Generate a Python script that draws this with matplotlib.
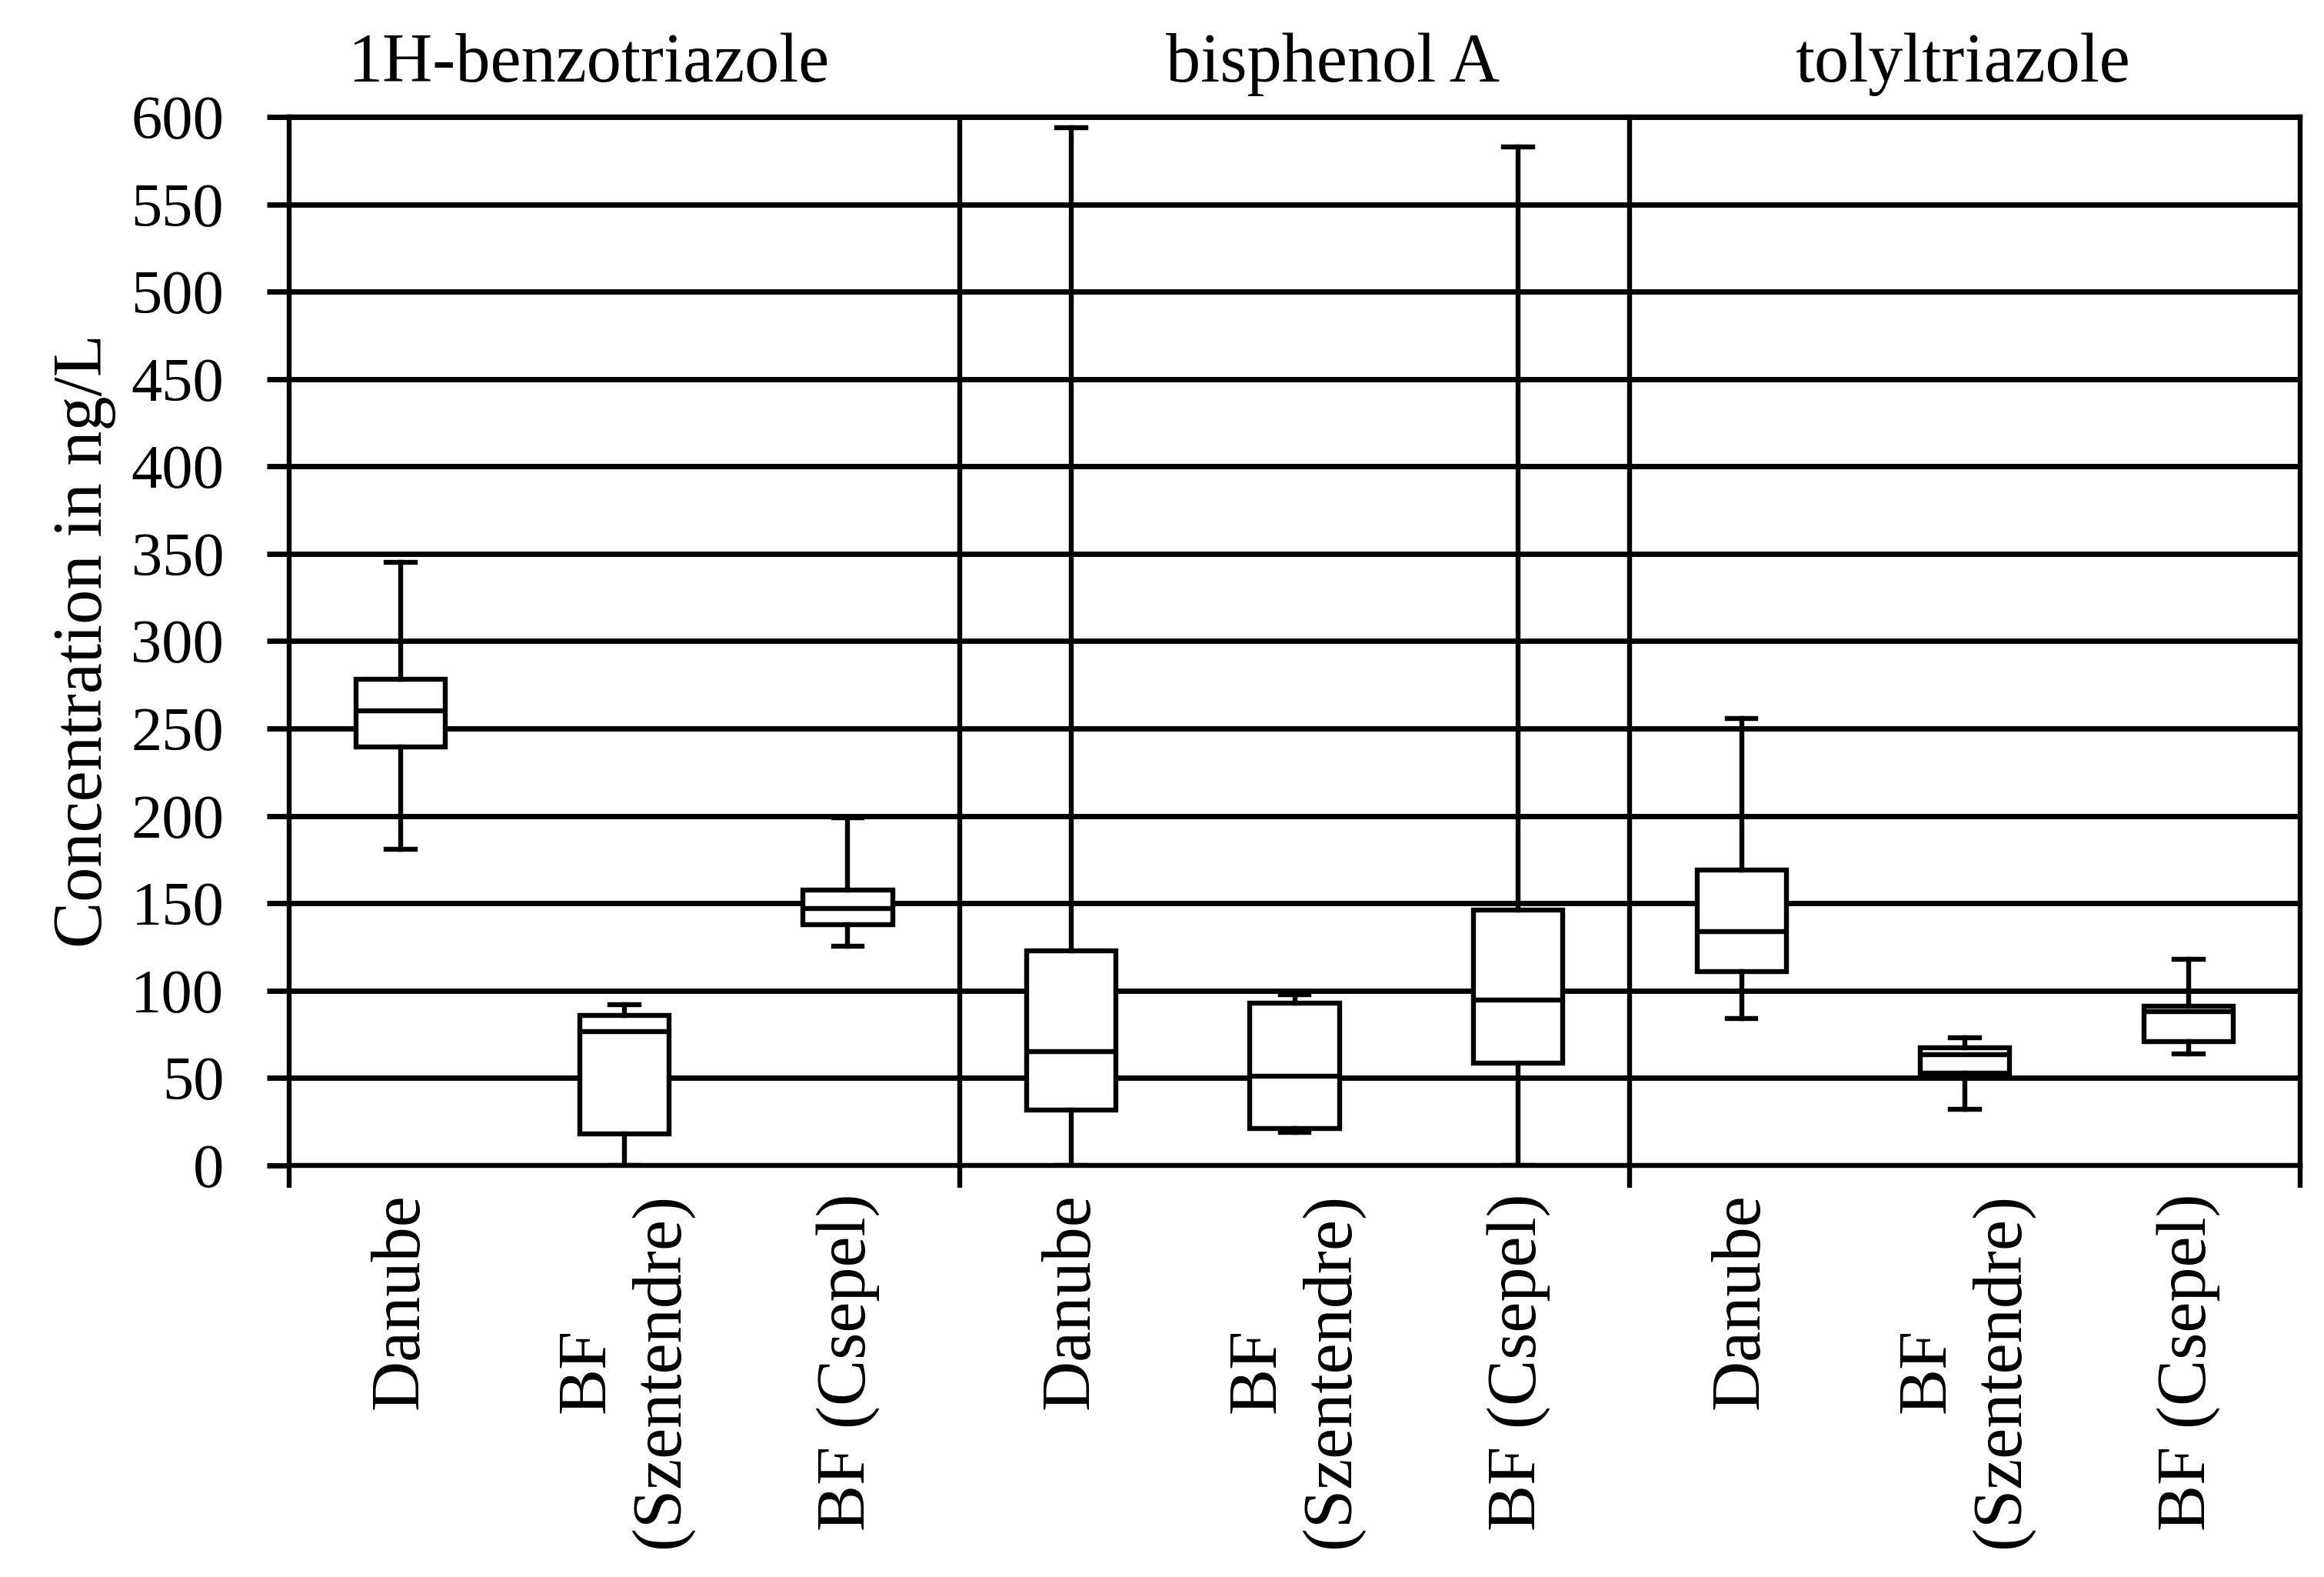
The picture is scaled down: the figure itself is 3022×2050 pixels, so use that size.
import matplotlib
matplotlib.use('Agg')
import matplotlib.pyplot as plt
from matplotlib.transforms import blended_transform_factory

# data (ng/L)
compounds = ['1H-benzotriazole', 'bisphenol A', 'tolyltriazole']
sites = ['Danube', 'BF\n(Szentendre)', 'BF (Csepel)']

whislo = [181, 0, 125.6, 0, 19, 0, 84, 32, 64]
q1 = [239.5, 18, 138, 31.5, 21, 58.5, 111, 52.7, 71]
med = [260, 76.5, 147, 65, 51, 94.5, 134, 63.5, 88]
q3 = [278, 86, 157.5, 123, 93, 146, 169, 67.5, 91]
whishi = [345, 92, 199, 594, 97.7, 583, 255.7, 73, 118]

plt.rcParams['font.family'] = ['Liberation Serif', 'DejaVu Serif']
fs = 58      # tick numbers
fs_txt = 65  # words
lw = 4.6

fig = plt.figure(figsize=(30.22, 20.5), dpi=100)
ax = fig.add_axes([376 / 3022, 1 - 1515 / 2050, 2615 / 3022, 1363 / 2050])

stats = []
for i in range(len(med)):
    stats.append({'whislo': whislo[i], 'q1': q1[i], 'med': med[i],
                  'q3': q3[i], 'whishi': whishi[i], 'fliers': []})
positions = [i + 0.5 for i in range(len(med))]

ax.bxp(stats, positions=positions, widths=0.4, capwidths=0.13,
       showfliers=False, patch_artist=True, manage_ticks=False,
       boxprops=dict(facecolor='white', edgecolor='black', linewidth=lw),
       medianprops=dict(color='black', linewidth=lw),
       whiskerprops=dict(color='black', linewidth=lw),
       capprops=dict(color='black', linewidth=lw), zorder=3)

# horizontal grid
for v in range(0, 601, 50):
    ax.axhline(v, color='black', linewidth=5, zorder=1)
# panel dividers
for xd in [3, 6]:
    ax.axvline(xd, color='black', linewidth=lw, zorder=2)

ax.set_xlim(0, 9)
ax.set_ylim(0, 600)
ax.set_yticks(range(0, 601, 50))
ax.tick_params(axis='y', labelsize=fs, length=21, width=5, pad=40)

ax.set_xticks([0, 3, 6, 9])
ax.set_xticklabels([])
ax.tick_params(axis='x', which='major', length=21, width=lw)
ax.set_xticks(positions, minor=True)
ax.set_xticklabels(sites * 3, minor=True, rotation=90, fontsize=fs_txt,
                   va='top', ha='center', multialignment='center')
ax.tick_params(axis='x', which='minor', length=0, pad=26)

for s in ax.spines.values():
    s.set_linewidth(lw)
    s.set_zorder(4)

ax.set_ylabel('Concentration in ng/L', fontsize=fs_txt, labelpad=14)

trans = blended_transform_factory(ax.transData, ax.transAxes)
title_x = [1.34, 4.67, 7.49]
for tx, name in zip(title_x, compounds):
    ax.text(tx, 1.034, name, transform=trans, fontsize=fs_txt,
            ha='center', va='baseline')

fig.savefig('out.png', dpi=100)
